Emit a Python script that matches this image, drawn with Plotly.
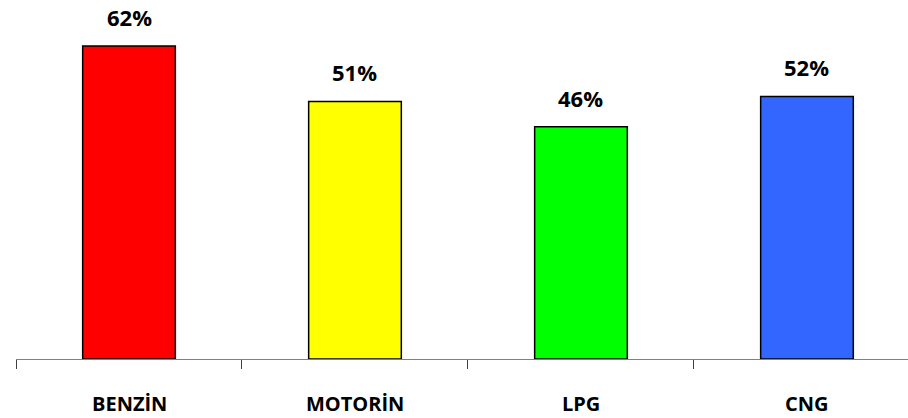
import plotly.graph_objects as go

categories = ["BENZİN", "MOTORİN", "LPG", "CNG"]
values = [62, 51, 46, 52]
labels = ["62%", "51%", "46%", "52%"]
colors = ["#FF0000", "#FFFF00", "#00FF00", "#3366FF"]

FONT = "'Open Sans', Lato, sans-serif"

fig = go.Figure(
    go.Bar(
        x=categories,
        y=values,
        width=0.41,
        marker=dict(color=colors, line=dict(color="#000000", width=1.5)),
        hoverinfo="skip",
    )
)

# value labels above each bar
for c, v, t in zip(categories, values, labels):
    fig.add_annotation(
        x=c, y=v, text=f"<b>{t}</b>", showarrow=False,
        yanchor="bottom", yshift=12,
        font=dict(family=FONT, size=22, color="#000000"),
    )

# category names below the axis
for c in categories:
    fig.add_annotation(
        x=c, y=0, text=f"<b>{c}</b>", showarrow=False,
        yanchor="middle", yshift=-44,
        borderpad=0,
        font=dict(family=FONT, size=20, color="#000000"),
    )

fig.update_layout(
    width=908,
    height=418,
    margin=dict(l=16, r=0, t=0, b=59),
    paper_bgcolor="#FFFFFF",
    plot_bgcolor="#FFFFFF",
    showlegend=False,
    xaxis=dict(
        type="category",
        range=[-0.5, 3.447],
        tickson="boundaries",
        ticks="outside",
        ticklen=9,
        tickcolor="#404040",
        tickwidth=1,
        showticklabels=False,
        showline=True,
        linecolor="#808080",
        linewidth=1,
        showgrid=False,
        zeroline=False,
    ),
    yaxis=dict(
        range=[0, 71.1],
        visible=False,
        showgrid=False,
        zeroline=False,
    ),
)

fig.write_html("out.html")
